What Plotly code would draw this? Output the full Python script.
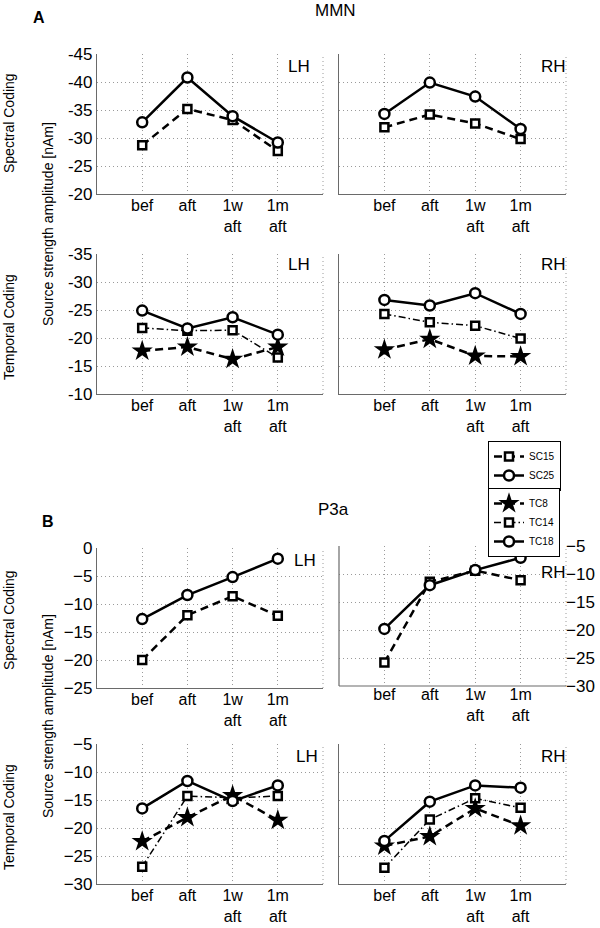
import plotly.graph_objects as go

# ---------------- data ----------------
categories = ["bef", "aft", "1w aft", "1m aft"]
tick_labels = ["bef", "aft", "1w<br>aft", "1m<br>aft"]

# MMN – spectral coding
mmn_lh_sc15 = [-28.7, -35.2, -33.2, -27.7]
mmn_lh_sc25 = [-32.8, -40.8, -33.9, -29.2]
mmn_rh_sc15 = [-31.9, -34.2, -32.6, -29.8]
mmn_rh_sc25 = [-34.3, -39.9, -37.4, -31.6]
# MMN – temporal coding
mmn_lh_tc8 = [-17.7, -18.4, -16.2, -18.4]
mmn_lh_tc14 = [-21.8, -21.3, -21.4, -16.5]
mmn_lh_tc18 = [-24.9, -21.7, -23.7, -20.6]
mmn_rh_tc8 = [-17.9, -19.8, -16.8, -16.7]
mmn_rh_tc14 = [-24.3, -22.8, -22.2, -19.9]
mmn_rh_tc18 = [-26.8, -25.8, -28.0, -24.3]
# P3a – spectral coding
p3a_lh_sc15 = [-20.0, -12.0, -8.6, -12.1]
p3a_lh_sc25 = [-12.7, -8.4, -5.2, -1.9]
p3a_rh_sc15 = [-25.8, -11.4, -9.4, -11.1]
p3a_rh_sc25 = [-19.8, -12.0, -9.3, -7.1]
# P3a – temporal coding
p3a_lh_tc8 = [-22.4, -18.1, -14.2, -18.6]
p3a_lh_tc14 = [-26.9, -14.3, -14.6, -14.3]
p3a_lh_tc18 = [-16.5, -11.6, -15.2, -12.4]
p3a_rh_tc8 = [-23.2, -21.5, -16.5, -19.6]
p3a_rh_tc14 = [-27.1, -18.5, -14.7, -16.4]
p3a_rh_tc18 = [-22.3, -15.3, -12.4, -12.8]

yticks_mmn_sc = [-45, -40, -35, -30, -25, -20]
yticks_mmn_tc = [-35, -30, -25, -20, -15, -10]
yticks_p3a_lh_sc = [0, -5, -10, -15, -20, -25]
yticks_p3a_rh_sc = [-5, -10, -15, -20, -25, -30]
yticks_p3a_tc = [-5, -10, -15, -20, -25, -30]

# ---------------- styles ----------------
FONT = "Liberation Sans"
GRID = "#9a9a9a"
AXIS = "#6a6a6a"
styles = {
    "SC15": dict(line=dict(color="black", width=2.5, dash="8px,5px"),
                 marker=dict(symbol="square", size=8, color="white",
                             line=dict(color="black", width=2.5))),
    "SC25": dict(line=dict(color="black", width=2.5),
                 marker=dict(symbol="circle", size=10, color="white",
                             line=dict(color="black", width=2.5))),
    "TC8": dict(line=dict(color="black", width=2.5, dash="8px,5px"),
                marker=dict(symbol="star", size=16, color="black",
                            line=dict(color="black", width=0))),
    "TC14": dict(line=dict(color="black", width=1.5, dash="7px,3px,1.5px,3px"),
                 marker=dict(symbol="square", size=8, color="white",
                             line=dict(color="black", width=2.5))),
    "TC18": dict(line=dict(color="black", width=2.5),
                 marker=dict(symbol="circle", size=10, color="white",
                             line=dict(color="black", width=2.5))),
}

fig = go.Figure()

W, H = 600, 928
def px_x(a, b):
    return [a / W, b / W]
def px_y(top, bottom):
    return [1 - bottom / H, 1 - top / H]

XL = px_x(97, 323)
XR = px_x(339, 566)
panels = {
    1: dict(xd=XL, yd=px_y(54, 194), yt=yticks_mmn_sc, rng=[-20, -45], lab=True, side="left", txt="-"),
    2: dict(xd=XR, yd=px_y(54, 194), yt=yticks_mmn_sc, rng=[-20, -45], lab=False, side="left", txt="-"),
    3: dict(xd=XL, yd=px_y(254, 394), yt=yticks_mmn_tc, rng=[-10, -35], lab=True, side="left", txt="-"),
    4: dict(xd=XR, yd=px_y(254, 394), yt=yticks_mmn_tc, rng=[-10, -35], lab=False, side="left", txt="-"),
    5: dict(xd=XL, yd=px_y(548, 688), yt=yticks_p3a_lh_sc, rng=[-25, 0], lab=True, side="left", txt="\u2212"),
    6: dict(xd=XR, yd=px_y(546, 686), yt=yticks_p3a_rh_sc, rng=[-30, -5], lab=True, side="right", txt="\u2212"),
    7: dict(xd=XL, yd=px_y(744, 884), yt=yticks_p3a_tc, rng=[-30, -5], lab=True, side="left", txt="\u2212"),
    8: dict(xd=XR, yd=px_y(744, 884), yt=yticks_p3a_tc, rng=[-30, -5], lab=False, side="left", txt="\u2212"),
}

series = {
    1: [("SC15", mmn_lh_sc15), ("SC25", mmn_lh_sc25)],
    2: [("SC15", mmn_rh_sc15), ("SC25", mmn_rh_sc25)],
    3: [("TC14", mmn_lh_tc14), ("TC8", mmn_lh_tc8), ("TC18", mmn_lh_tc18)],
    4: [("TC14", mmn_rh_tc14), ("TC8", mmn_rh_tc8), ("TC18", mmn_rh_tc18)],
    5: [("SC15", p3a_lh_sc15), ("SC25", p3a_lh_sc25)],
    6: [("SC15", p3a_rh_sc15), ("SC25", p3a_rh_sc25)],
    7: [("TC14", p3a_lh_tc14), ("TC8", p3a_lh_tc8), ("TC18", p3a_lh_tc18)],
    8: [("TC14", p3a_rh_tc14), ("TC8", p3a_rh_tc8), ("TC18", p3a_rh_tc18)],
}

legend_rank = {"SC15": 1, "SC25": 2, "TC8": 3, "TC14": 4, "TC18": 5}

for i, p in panels.items():
    sfx = "" if i == 1 else str(i)
    for name, vals in series[i]:
        show = (i == 1) or (i == 3)
        fig.add_trace(go.Scatter(
            x=categories, y=vals, mode="lines+markers", name=name,
            xaxis="x" + sfx, yaxis="y" + sfx,
            showlegend=show,
            legend="legend" if name.startswith("SC") else "legend2",
            legendrank=legend_rank[name],
            cliponaxis=False,
            **styles[name]))
    xa = dict(domain=p["xd"], anchor="y" + sfx, type="category",
              categoryorder="array", categoryarray=categories,
              range=[-1, 4], tickvals=categories, ticktext=tick_labels,
              showgrid=True, gridcolor=GRID, griddash="1px,3px", gridwidth=1,
              showline=(p["side"] == "left"), linecolor=AXIS, linewidth=1.2,
              zeroline=False, ticks="", fixedrange=True, automargin=False,
              ticklabelstandoff=-3,
              tickfont=dict(family=FONT, size=16, color="black"))
    ya = dict(domain=p["yd"], anchor="x" + sfx, range=p["rng"],
              tickvals=p["yt"],
              ticktext=[(p["txt"] + str(abs(v))) if v != 0 else "0" for v in p["yt"]],
              showticklabels=p["lab"], side=p["side"],
              showgrid=True, gridcolor=GRID, griddash="1px,3px", gridwidth=1,
              showline=(p["side"] == "left"), linecolor=AXIS, linewidth=1.2,
              zeroline=False, ticks="", fixedrange=True, automargin=False,
              ticklabelstandoff=(-1 if p["side"] == "right" else 0),
              tickfont=dict(family=FONT, size=17, color="black"))
    fig.update_layout(**{"xaxis" + sfx: xa, "yaxis" + sfx: ya})
    # right-edge dotted grid line
    fig.add_shape(type="line", xref="x" + sfx + " domain", yref="y" + sfx + " domain",
                  x0=1, x1=1, y0=0, y1=1,
                  line=dict(color=GRID, width=1, dash="1px,3px"), layer="below")
    if p["side"] == "right":
        # solid left and bottom axis lines for the panel with right-side labels
        fig.add_shape(type="line", xref="x" + sfx + " domain", yref="y" + sfx + " domain",
                      x0=0, x1=0, y0=0, y1=1, line=dict(color=AXIS, width=1.2))
        fig.add_shape(type="line", xref="x" + sfx + " domain", yref="y" + sfx + " domain",
                      x0=0, x1=1, y0=0, y1=0, line=dict(color=AXIS, width=1.2))

ann = []
def add_text(text, xpx, ypx, size, bold=False, angle=0, xanchor="center"):
    ann.append(dict(text=("<b>%s</b>" % text) if bold else text,
                    x=xpx / W, y=1 - ypx / H, xref="paper", yref="paper",
                    xanchor=xanchor, yanchor="middle", showarrow=False,
                    textangle=angle, font=dict(family=FONT, size=size, color="black")))

add_text("A", 39, 18, 16, bold=True)
add_text("MMN", 335, 10, 17)
add_text("B", 48, 521, 16, bold=True)
add_text("P3a", 333, 509, 17)

for (xp, yp) in [(299, 67), (553, 67), (299, 264), (553, 264),
                 (305, 560), (553, 572), (307, 756), (553, 756)]:
    add_text("LH" if xp < 330 else "RH", xp, yp, 17)

add_text("Spectral Coding", 9, 123, 14, angle=-90)
add_text("Temporal Coding", 9, 327, 14, angle=-90)
add_text("Source strength amplitude [nAm]", 48, 224, 14, angle=-90)
add_text("Spectral Coding", 9, 620, 14, angle=-90)
add_text("Temporal Coding", 9, 817, 14, angle=-90)
add_text("Source strength amplitude [nAm]", 48, 716, 14, angle=-90)

fig.update_layout(
    template="none",
    width=W, height=H,
    margin=dict(l=0, r=0, t=0, b=0, pad=0, autoexpand=False),
    paper_bgcolor="white", plot_bgcolor="white",
    annotations=ann,
    legend=dict(x=488 / W, y=1 - 441 / H, xanchor="left", yanchor="top",
                bordercolor="black", borderwidth=1, bgcolor="white",
                font=dict(family=FONT, size=10, color="black"),
                itemwidth=30, tracegroupgap=0),
    legend2=dict(x=488 / W, y=1 - 488 / H, xanchor="left", yanchor="top",
                 bordercolor="black", borderwidth=1, bgcolor="white",
                 font=dict(family=FONT, size=10, color="black"),
                 itemwidth=30, tracegroupgap=0),
)

fig.write_html("out.html",
               config={"displayModeBar": False},
               post_script="document.body.style.margin='0px';document.body.style.overflow='hidden';")
